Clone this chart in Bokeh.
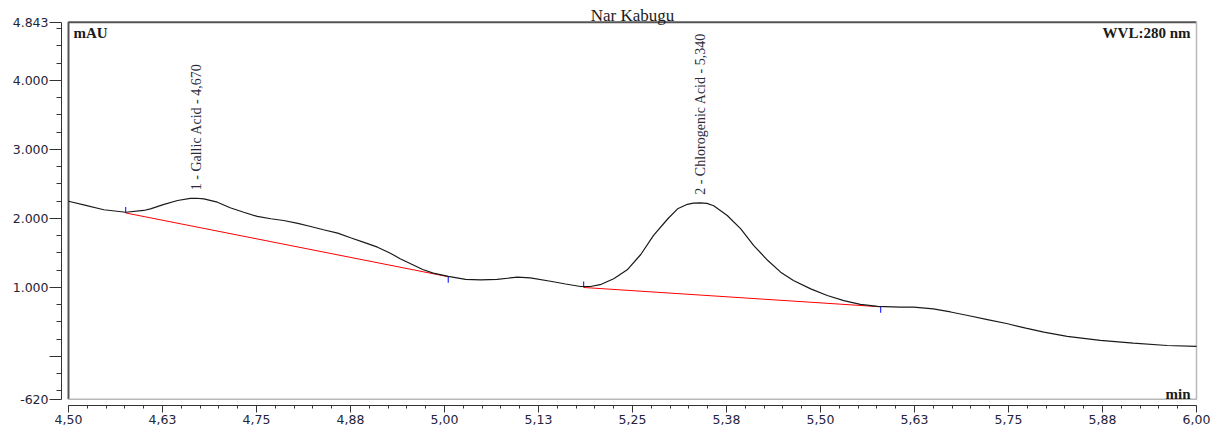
import math
import numpy as np
from bokeh.plotting import figure
from bokeh.models import Range1d, FixedTicker, Label
from bokeh.core.properties import value
from bokeh.embed import file_html
from bokeh.resources import INLINE

# ---- chromatogram data -------------------------------------------------
sample_name = "Nar Kabugu"
detector = "WVL:280 nm"
y_unit = "mAU"
x_unit = "min"

# retention time (min)
rt = [4.500, 4.523, 4.547, 4.576, 4.600, 4.609, 4.626, 4.645, 4.662, 4.670,
      4.680, 4.698, 4.715, 4.733, 4.751, 4.769, 4.786, 4.805, 4.822, 4.839,
      4.858, 4.875, 4.892, 4.911, 4.928, 4.941, 4.955, 4.971, 4.985, 5.005,
      5.028, 5.048, 5.070, 5.097, 5.114, 5.141, 5.161, 5.181, 5.194, 5.207,
      5.225, 5.243, 5.261, 5.278, 5.297, 5.310, 5.323, 5.331, 5.340, 5.349,
      5.358, 5.376, 5.394, 5.411, 5.430, 5.447, 5.464, 5.487, 5.509, 5.531,
      5.553, 5.576, 5.606, 5.624, 5.650, 5.673, 5.696, 5.722, 5.749, 5.773,
      5.797, 5.828, 5.872, 5.916, 5.961, 6.000]
# absorbance (thousands of mAU)
signal = [2.250, 2.190, 2.126, 2.090, 2.116, 2.140, 2.200, 2.260, 2.290, 2.293,
          2.285, 2.236, 2.155, 2.090, 2.030, 1.996, 1.971, 1.930, 1.884, 1.836,
          1.787, 1.720, 1.657, 1.584, 1.497, 1.416, 1.343, 1.260, 1.207, 1.160,
          1.116, 1.110, 1.116, 1.150, 1.140, 1.090, 1.050, 1.014, 1.014, 1.040,
          1.126, 1.256, 1.478, 1.754, 1.996, 2.140, 2.205, 2.222, 2.227, 2.218,
          2.185, 2.043, 1.850, 1.609, 1.390, 1.222, 1.100, 0.980, 0.884, 0.810,
          0.754, 0.725, 0.715, 0.715, 0.690, 0.645, 0.594, 0.535, 0.474, 0.410,
          0.352, 0.290, 0.232, 0.193, 0.159, 0.145]

peak_names = ["1 - Gallic Acid - 4,670", "2 - Chlorogenic Acid - 5,340"]
peak_rt = [4.670, 5.340]
peak_height = [2.293, 2.227]

# integration baselines: start / end points of each
base_x0 = [4.576, 5.185]
base_y0 = [2.080, 1.000]
base_x1 = [5.005, 5.580]
base_y1 = [1.156, 0.720]

x_ticks = [4.5, 4.625, 4.75, 4.875, 5.0, 5.125, 5.25, 5.375, 5.5, 5.625,
           5.75, 5.875, 6.0]
x_tick_labels = ["4,50", "4,63", "4,75", "4,88", "5,00", "5,13", "5,25",
                 "5,38", "5,50", "5,63", "5,75", "5,88", "6,00"]
y_ticks = [-0.62, 0.0, 1.0, 2.0, 3.0, 4.0, 4.843]
y_tick_labels = ["-620", "", "1.000", "2.000", "3.000", "4.000", "4.843"]

# ---- geometry ----------------------------------------------------------
X_MIN, X_MAX = 4.5, 6.0
Y_MIN, Y_MAX = -0.62, 4.843
PX_X = 752.0      # pixels per minute
PX_Y = 69.0       # pixels per 1.000 mAU

# the frame reaches the top edge so the sample name can sit above the panel
x_range = Range1d(X_MIN - 7 / PX_X, X_MAX + 2 / PX_X)
y_range = Range1d(Y_MIN - 6.25 / PX_Y, Y_MAX + 21.8 / PX_Y)

p = figure(width=1217, height=435, x_range=x_range, y_range=y_range,
           output_backend="svg", toolbar_location=None,
           min_border_left=61, min_border_right=19,
           min_border_top=0, min_border_bottom=30)
p.outline_line_color = None
p.background_fill_color = "white"
p.border_fill_color = "white"
p.xgrid.visible = False
p.ygrid.visible = False

tick_font = "DejaVu Sans"
tick_color = "#24243a"

xa = p.xaxis[0]
xa.ticker = FixedTicker(ticks=x_ticks,
                        minor_ticks=list(np.round(np.arange(4.5, 6.0001, 0.025), 3)))
xa.major_label_overrides = dict(zip(x_ticks, x_tick_labels))
xa.bounds = (X_MIN, X_MAX)
xa.axis_line_color = "#333333"
xa.major_tick_line_color = "#333333"
xa.minor_tick_line_color = "#333333"
xa.major_tick_in = 0
xa.major_tick_out = 7
xa.minor_tick_in = 0
xa.minor_tick_out = 3
xa.major_label_standoff = 2
xa.major_label_text_font = tick_font
xa.major_label_text_font_size = "12.5px"
xa.major_label_text_color = tick_color

ya = p.yaxis[0]
ya.ticker = FixedTicker(ticks=y_ticks,
                        minor_ticks=list(np.round(np.arange(-0.5, 4.8, 0.25), 3)))
ya.major_label_overrides = dict(zip(y_ticks, y_tick_labels))
ya.bounds = (Y_MIN, Y_MAX)
ya.axis_line_color = "#333333"
ya.major_tick_line_color = "#333333"
ya.minor_tick_line_color = "#333333"
ya.major_tick_in = 0
ya.major_tick_out = 12
ya.minor_tick_in = 0
ya.minor_tick_out = 5
ya.major_label_standoff = 1
ya.major_label_text_font = tick_font
ya.major_label_text_font_size = "12.5px"
ya.major_label_text_color = tick_color

# sunken panel border around the trace area
p.line([X_MIN, X_MIN, X_MAX], [Y_MIN, Y_MAX, Y_MAX], line_color="#555555",
       line_width=2)
p.line([X_MIN, X_MAX, X_MAX], [Y_MIN, Y_MIN, Y_MAX], line_color="#b8b8b8",
       line_width=1.5)

# integration baselines and their delimiters
p.segment(x0=base_x0, y0=base_y0, x1=base_x1, y1=base_y1,
          line_color="#ff0000", line_width=1)
tick_len = 6 / PX_Y
p.segment(x0=base_x0, y0=base_y0, x1=base_x0,
          y1=[v + tick_len for v in base_y0], line_color="#2a2aff", line_width=1.2)
p.segment(x0=base_x1, y0=base_y1, x1=base_x1,
          y1=[v - tick_len for v in base_y1], line_color="#2a2aff", line_width=1.2)

# signal trace
p.line(rt, signal, line_color="#1a1a1a", line_width=1.2)

# peak annotations
p.text(x=peak_rt, y=peak_height, text=peak_names, angle=math.pi / 2,
       text_align="left", text_baseline="middle", y_offset=-8,
       text_font=value("Liberation Serif"), text_font_size="14px",
       text_color="#2a2a3a")

serif = "Liberation Serif"
p.add_layout(Label(x=X_MIN, y=Y_MAX, x_offset=5, y_offset=-3, text=y_unit,
                   text_align="left", text_baseline="top",
                   text_font=serif, text_font_size="15px",
                   text_font_style="bold", text_color="#1a1a1a"))
p.add_layout(Label(x=X_MAX, y=Y_MAX, x_offset=-6, y_offset=-3, text=detector,
                   text_align="right", text_baseline="top",
                   text_font=serif, text_font_size="15px",
                   text_font_style="bold", text_color="#1a1a1a"))
p.add_layout(Label(x=X_MAX, y=Y_MIN, x_offset=-6, y_offset=5, text=x_unit,
                   text_align="right", text_baseline="alphabetic",
                   text_font=serif, text_font_size="15px",
                   text_font_style="bold", text_color="#1a1a1a"))
p.add_layout(Label(x=(X_MIN + X_MAX) / 2, y=Y_MAX, y_offset=7, text=sample_name,
                   text_align="center", text_baseline="alphabetic",
                   text_font=serif, text_font_size="17px",
                   text_color="#1a1a1a"))

open("out.html", "w").write(file_html(p, INLINE))
